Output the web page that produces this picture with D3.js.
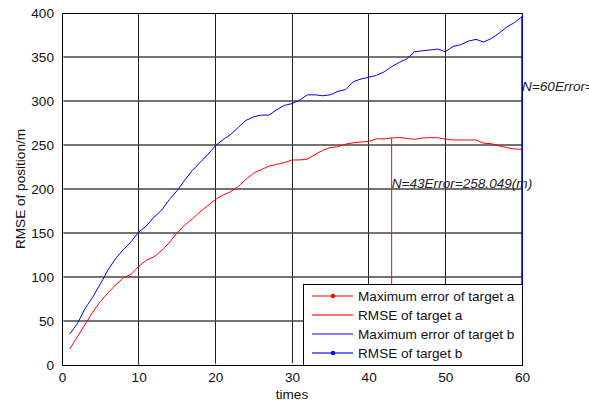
<!DOCTYPE html>
<html>
<head>
<meta charset="utf-8">
<script src="https://d3js.org/d3.v7.min.js"></script>
<style>
  body { margin: 0; background: #fff; }
  text { font-family: "Liberation Sans", Arial, sans-serif; }
</style>
</head>
<body>
<script>

// data
const times = d3.range(1, 61);
const rmseA = [18, 32, 46, 60, 72, 82, 91, 99, 103, 112,
  119, 123, 130, 139, 150, 159, 166, 174, 181, 188,
  193, 197, 203, 211, 218, 222, 226, 228, 230, 233,
  233, 234, 239, 244, 247, 248, 251, 252.5, 253.5, 254,
  257, 257, 258.049, 258.5, 257.5, 256.5, 258, 258.3, 258.3, 256.7,
  255.7, 255.7, 255.7, 255.7, 252, 251.5, 249, 247, 245.5, 245];
const rmseB = [35, 47, 64, 77, 92, 108, 121, 131, 140, 151,
  158, 168, 176, 188, 198, 210, 221, 230, 239, 249,
  256, 262, 270, 278, 282, 284, 284, 290, 295, 297,
  301, 307, 307, 306, 307, 311, 313, 322, 325, 327,
  329, 333, 339, 344, 348, 356, 357, 358, 359, 356,
  362, 364, 368, 370, 367, 371, 377, 384, 389, 396];
const maxA = { n: 43, err: 258.049 };
const maxB = { n: 60, err: 396 };
const xTicks = [0, 10, 20, 30, 40, 50, 60];
const yTicks = [0, 50, 100, 150, 200, 250, 300, 350, 400];
const legendItems = [
  { label: "Maximum error of target a", color: "#ff0000", width: 1, dot: true },
  { label: "RMSE of target a", color: "#ff7070", width: 2, dot: false },
  { label: "Maximum error of target b", color: "#0000ff", width: 1, dot: false },
  { label: "RMSE of target b", color: "#7070ff", width: 2, dot: true, dotColor: "#0000ff" }
];

let width = 589, height = 403;
let margin = { left: 62, right: 67, top: 13, bottom: 38 };
let fs = 13.6;

var svg = d3.select("body").append("svg").attr("width", width).attr("height", height);

var x = d3.scaleLinear().domain([0, 60]).range([margin.left, width - margin.right]);
var y = d3.scaleLinear().domain([0, 400]).range([height - margin.bottom, margin.top]);

// grid
svg.append("g").selectAll("line").data(xTicks.slice(1, -1)).enter().append("line")
  .attr("x1", d => x(d)).attr("x2", d => x(d))
  .attr("y1", y(0)).attr("y2", y(400))
  .attr("stroke", "#222").attr("shape-rendering", "crispEdges");
svg.append("g").selectAll("line").data(yTicks.slice(1, -1)).enter().append("line")
  .attr("y1", d => y(d)).attr("y2", d => y(d))
  .attr("x1", x(0)).attr("x2", x(60))
  .attr("stroke", "#444").attr("stroke-width", 1.3);

// axes
var xAxis = svg.append("g").attr("transform", "translate(0," + y(0) + ")")
  .call(d3.axisBottom(x).tickValues(xTicks).tickSize(-2).tickPadding(7));
var yAxis = svg.append("g").attr("transform", "translate(" + x(0) + ",0)")
  .call(d3.axisLeft(y).tickValues(yTicks).tickSize(-2).tickPadding(8));
[xAxis, yAxis].forEach(a => {
  a.select(".domain").remove();
  a.selectAll(".tick line").attr("stroke", "#9dd");
  a.selectAll("text").attr("font-size", fs).attr("fill", "#111")
    .attr("font-family", "Liberation Sans, Arial, sans-serif");
});

// frame
svg.append("rect").attr("x", x(0)).attr("y", y(400))
  .attr("width", x(60) - x(0)).attr("height", y(0) - y(400))
  .attr("fill", "none").attr("stroke", "#000").attr("shape-rendering", "crispEdges");

// curves
var line = d3.line().x((d, i) => x(times[i])).y(d => y(d));
svg.append("path").datum(rmseA).attr("d", line)
  .attr("fill", "none").attr("stroke", "#ff0000").attr("stroke-width", 1);
svg.append("path").datum(rmseB).attr("d", line)
  .attr("fill", "none").attr("stroke", "#0000ff").attr("stroke-width", 1);

// maximum error markers
svg.append("line").attr("x1", x(maxA.n)).attr("x2", x(maxA.n))
  .attr("y1", y(0)).attr("y2", y(maxA.err)).attr("stroke", "#ff0000");
svg.append("line").attr("x1", x(maxB.n)).attr("x2", x(maxB.n))
  .attr("y1", y(0)).attr("y2", y(maxB.err)).attr("stroke", "#0000ff").attr("stroke-width", 1.5);

// annotations (the second one runs off the right edge, as in the original)
svg.append("text").attr("x", x(maxA.n)).attr("y", y(0.8 * maxA.err))
  .attr("dy", "0.35em").attr("font-size", fs).attr("font-style", "italic").attr("fill", "#222")
  .text("N=" + maxA.n + "Error=" + maxA.err + "(m)");
svg.append("text").attr("x", x(maxB.n)).attr("y", y(0.8 * maxB.err))
  .attr("dy", "0.35em").attr("font-size", fs).attr("font-style", "italic").attr("fill", "#222")
  .text("N=" + maxB.n + "Error=" + maxB.err + "(m)");

// axis labels
svg.append("text").attr("x", (x(0) + x(60)) / 2).attr("y", 398.5)
  .attr("text-anchor", "middle").attr("font-size", fs).attr("fill", "#111").text("times");
svg.append("text").attr("transform", "translate(24.5," + (y(0) + y(400)) / 2 + ") rotate(-90)")
  .attr("text-anchor", "middle").attr("font-size", fs).attr("fill", "#111").text("RMSE of position/m");

// legend
let lg = svg.append("g");
lg.append("rect").attr("x", 303).attr("y", 284).attr("width", x(60) - 303).attr("height", y(0) - 284)
  .attr("fill", "#fff").attr("stroke", "#000").attr("shape-rendering", "crispEdges");
let rows = lg.selectAll(".row").data(legendItems).enter().append("g")
  .attr("transform", (d, i) => "translate(0," + (296 + i * 19) + ")");
rows.append("line").attr("x1", 312).attr("x2", 353)
  .attr("stroke", d => d.color).attr("stroke-width", d => d.width);
rows.filter(d => d.dot).append("circle").attr("cx", 333).attr("r", 2.2)
  .attr("fill", d => d.dotColor || d.color);
rows.append("text").attr("x", 358).attr("dy", "0.35em").attr("font-size", fs).attr("fill", "#111")
  .text(d => d.label);

</script>
</body>
</html>
